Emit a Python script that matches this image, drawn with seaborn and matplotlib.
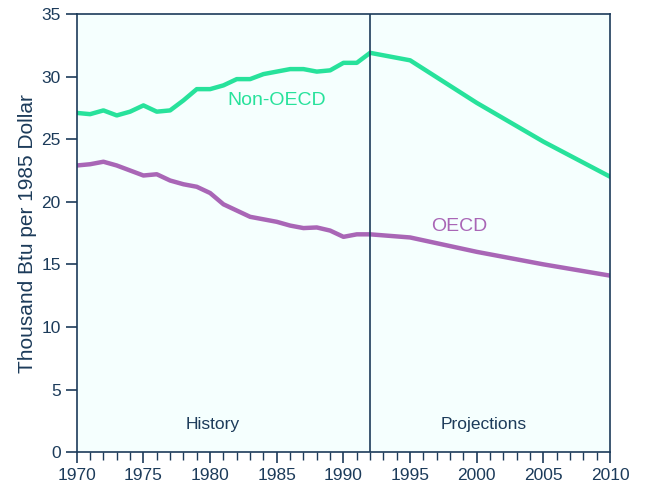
import pandas as pd
import matplotlib.pyplot as plt
import seaborn as sns
import numpy as np

# data
years = [1970, 1971, 1972, 1973, 1974, 1975, 1976, 1977, 1978, 1979,
         1980, 1981, 1982, 1983, 1984, 1985, 1986, 1987, 1988, 1989,
         1990, 1991, 1992, 1995, 2000, 2005, 2010]
non_oecd = [27.1, 27.0, 27.3, 26.9, 27.2, 27.7, 27.2, 27.3, 28.1, 29.0,
            29.0, 29.3, 29.8, 29.8, 30.2, 30.4, 30.6, 30.6, 30.4, 30.5,
            31.1, 31.1, 31.9, 31.3, 27.9, 24.8, 22.0]
oecd = [22.9, 23.0, 23.2, 22.9, 22.5, 22.1, 22.2, 21.7, 21.4, 21.2,
        20.7, 19.8, 19.3, 18.8, 18.6, 18.4, 18.1, 17.9, 17.95, 17.7,
        17.2, 17.4, 17.4, 17.15, 16.0, 15.0, 14.1]

df = pd.DataFrame({"Year": years * 2,
                   "Value": non_oecd + oecd,
                   "Region": ["Non-OECD"] * len(years) + ["OECD"] * len(years)})

sns.set_style("ticks")
plt.rcParams['font.family'] = ['Liberation Sans', 'DejaVu Sans']

navy = "#1c3b5a"
green = "#27e29b"
purple = "#a966b6"

fig = plt.figure(figsize=(6.45, 4.92), dpi=100)
ax = fig.add_axes([0.119, 0.081, 0.827, 0.8905])
ax.set_facecolor("#f5fffe")

sns.lineplot(data=df, x="Year", y="Value", hue="Region",
             palette={"Non-OECD": green, "OECD": purple},
             linewidth=3.2, legend=False, ax=ax)

ax.axvline(1992, color=navy, linewidth=1.2)

ax.set_xlim(1970, 2010)
ax.set_ylim(0, 35)
ax.set_xticks(range(1970, 2011, 5))
ax.set_xticks(range(1970, 2011, 1), minor=True)
ax.set_yticks(range(0, 36, 5))
ax.tick_params(axis="both", which="major", direction="out", length=8,
               width=1.2, color=navy, labelcolor=navy, labelsize=12.5)
ax.tick_params(axis="x", which="minor", direction="out", length=6,
               width=1.0, color=navy)
for s in ax.spines.values():
    s.set_color(navy)
    s.set_linewidth(1.2)

ax.set_xlabel("")
ax.set_ylabel("Thousand Btu per 1985 Dollar", color=navy, fontsize=15, labelpad=3)

ax.text(1985.0, 28.1, "Non-OECD", color=green, fontsize=14, ha="center", va="center")
ax.text(1998.7, 18.0, "OECD", color=purple, fontsize=14, ha="center", va="center")
ax.text(1980.2, 2.2, "History", color=navy, fontsize=12.5, ha="center", va="center")
ax.text(2000.5, 2.2, "Projections", color=navy, fontsize=12.5, ha="center", va="center")

fig.savefig("out.png", dpi=100)
